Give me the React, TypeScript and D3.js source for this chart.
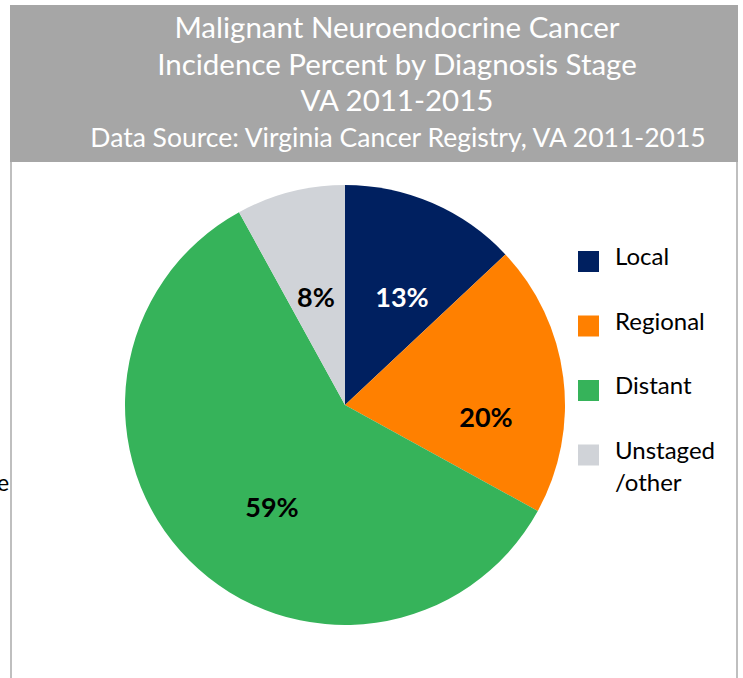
import { useEffect, useRef } from 'react';
import * as d3 from 'd3';

const stages = ['Local', 'Regional', 'Distant', 'Unstaged/other'];
const percents = [13, 20, 59, 8];
const colors = ['#002060', '#FF8000', '#36B35A', '#D0D3D8'];
const labelColors = ['#ffffff', '#000000', '#000000', '#000000'];
const legendLines = [['Local'], ['Regional'], ['Distant'], ['Unstaged', '/other']];
const titleLines = [
  'Malignant Neuroendocrine Cancer',
  'Incidence Percent by Diagnosis Stage',
  'VA 2011-2015',
];
const sourceLine = 'Data Source: Virginia Cancer Registry, VA 2011-2015';

export default function App() {
  const svgRef = useRef<SVGSVGElement | null>(null);

  useEffect(() => {
    if (!svgRef.current) return;
    const W = 743;
    const H = 678;
    const font = 'Lato, "Open Sans", sans-serif';

    const svg = d3.select(svgRef.current);
    svg.selectAll('*').remove();
    svg.attr('width', W).attr('height', H);

    svg.append('rect').attr('width', W).attr('height', H).attr('fill', '#fff');

    // 외곽 테두리
    svg.append('line')
      .attr('x1', 11).attr('x2', 11).attr('y1', 160).attr('y2', H)
      .attr('stroke', '#bfbfbf').attr('stroke-width', 2);
    svg.append('line')
      .attr('x1', 737).attr('x2', 737).attr('y1', 160).attr('y2', H)
      .attr('stroke', '#bfbfbf').attr('stroke-width', 2);

    // 헤더
    svg.append('rect')
      .attr('x', 10).attr('y', 5).attr('width', 728).attr('height', 157)
      .attr('fill', '#A6A6A6');

    svg.selectAll('text.title')
      .data(titleLines)
      .join('text')
      .attr('class', 'title')
      .attr('x', 397)
      .attr('y', (_d, i) => 38 + i * 36.5)
      .attr('text-anchor', 'middle')
      .attr('font-family', font)
      .attr('font-size', '29.5px')
      .attr('fill', '#fff')
      .text((d) => d);

    svg.append('text')
      .attr('x', 398).attr('y', 147)
      .attr('text-anchor', 'middle')
      .attr('font-family', font)
      .attr('font-size', '26.5px')
      .attr('fill', '#fff')
      .text(sourceLine);

    // 잘린 축 제목
    svg.append('text')
      .attr('x', -3).attr('y', 491)
      .attr('font-family', font)
      .attr('font-size', '23px')
      .attr('fill', '#000')
      .text('e');

    // 파이
    const cx = 345;
    const cy = 405;
    const r = 220;
    const pie = d3.pie<number>().sort(null).value((d) => d);
    const arcs = pie(percents);
    const arc = d3.arc<d3.PieArcDatum<number>>().innerRadius(0).outerRadius(r);

    const g = svg.append('g').attr('transform', `translate(${cx},${cy})`);
    g.selectAll('path')
      .data(arcs)
      .join('path')
      .attr('d', arc)
      .attr('fill', (_d, i) => colors[i]);

    // 라벨 위치 (파이 중심 기준 오프셋)
    const labelOffset = [
      [57, -107],
      [141, 13],
      [-73, 103],
      [-29, -107],
    ];
    g.selectAll('text.val')
      .data(arcs)
      .join('text')
      .attr('class', 'val')
      .attr('x', (_d, i) => labelOffset[i][0])
      .attr('y', (_d, i) => labelOffset[i][1] + 9)
      .attr('text-anchor', 'middle')
      .attr('font-family', font)
      .attr('font-size', '27px')
      .attr('font-weight', 'bold')
      .attr('fill', (_d, i) => labelColors[i])
      .text((d) => `${d.data}%`);

    // 범례
    const legendY = d3.scaleBand<string>().domain(stages).range([251, 509]);
    const lg = svg.append('g');
    stages.forEach((s, i) => {
      const y0 = legendY(s) ?? 0;
      lg.append('rect')
        .attr('x', 578).attr('y', y0)
        .attr('width', 21).attr('height', 21)
        .attr('fill', colors[i]);
      legendLines[i].forEach((line, j) => {
        lg.append('text')
          .attr('x', 615).attr('y', y0 + 14 + j * 32)
          .attr('font-family', font)
          .attr('font-size', '24px')
          .attr('fill', '#000')
          .text(line);
      });
    });
  }, []);

  return (
    <div style={{ position: 'absolute', left: 0, top: 0 }}>
      <svg ref={svgRef} style={{ display: 'block' }} />
    </div>
  );
}
